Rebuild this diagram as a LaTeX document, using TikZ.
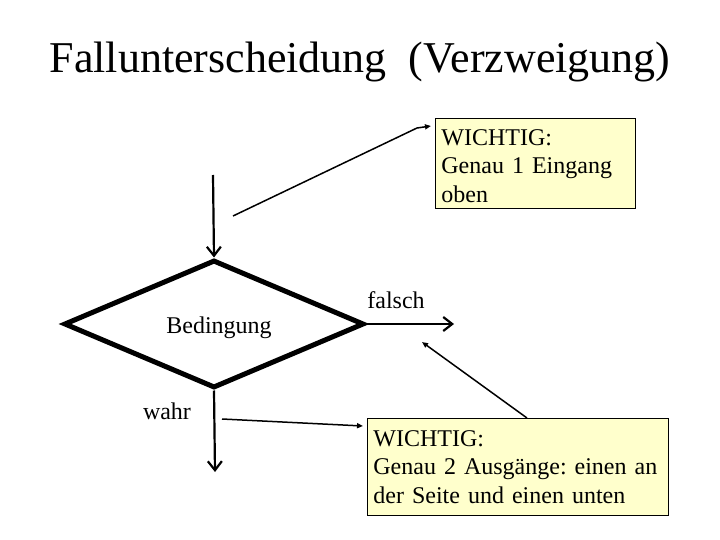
\documentclass[tikz,border=0pt]{standalone}
\usepackage{fontspec}
\setmainfont{Liberation Serif}
\usetikzlibrary{shapes.geometric,arrows.meta}
\definecolor{notefill}{HTML}{FFFFCC}
\tikzset{
  flow/.style={line width=2.2pt,-{Straight Barb[length=9pt,width=14pt,line width=2.2pt]}},
  pointer/.style={line width=1.5pt,-{Triangle[length=6pt,width=5pt]}},
  note/.style={draw=black,line width=0.8pt,fill=notefill,anchor=north west,align=left,
    inner xsep=6pt,inner ysep=4pt,font=\fontsize{24}{28.5}\selectfont\frenchspacing},
  lbl/.style={font=\fontsize{24}{28}\selectfont,inner sep=0pt}
}
\begin{document}
\begin{tikzpicture}[x=1pt,y=-1pt]
\useasboundingbox (0,0) rectangle (720,540);
\node[font=\fontsize{44}{50}\selectfont,inner sep=0pt] (title) at (360,62) {Fallunterscheidung~~(Verzweigung)};
\node[draw,line width=5pt,diamond,inner sep=0pt,minimum width=300pt,minimum height=128pt] (d) at (214,324) {};
\node[lbl] (cond) at (219,328) {Bedingung};
\coordinate (in) at (213,175);
\coordinate (fo) at (454,324);
\coordinate (wo) at (215,472);
\draw[flow] (in) -- (d.north);
\draw[flow] (d.east) -- (fo);
\draw[flow] (d.south) -- (wo);
\node[lbl] (falsch) at (396,300) {falsch};
\node[lbl] (wahr) at (167,411) {wahr};
\node[note,text width=188pt,minimum height=90pt] (b1) at (435,118) {\rule{0pt}{21pt}WICHTIG:\\Genau 1 Eingang\\oben};
\node[note,text width=289pt,minimum height=97pt] (b2) at (367,418) {WICHTIG:\\Genau 2 Ausgänge: einen an\\der Seite und einen unten};
\coordinate (p1) at (233,216);
\coordinate (p1k) at (417,128);
\coordinate (p1e) at (431,126);
\draw[pointer] (p1) -- (p1k) -- (p1e);
\coordinate (p2s) at (527,418);
\coordinate (p2e) at (422,342);
\draw[pointer] (p2s) -- (p2e);
\coordinate (p3) at (222,419);
\coordinate (p3e) at (363,426);
\draw[pointer] (p3) -- (p3e);
\end{tikzpicture}
\end{document}
